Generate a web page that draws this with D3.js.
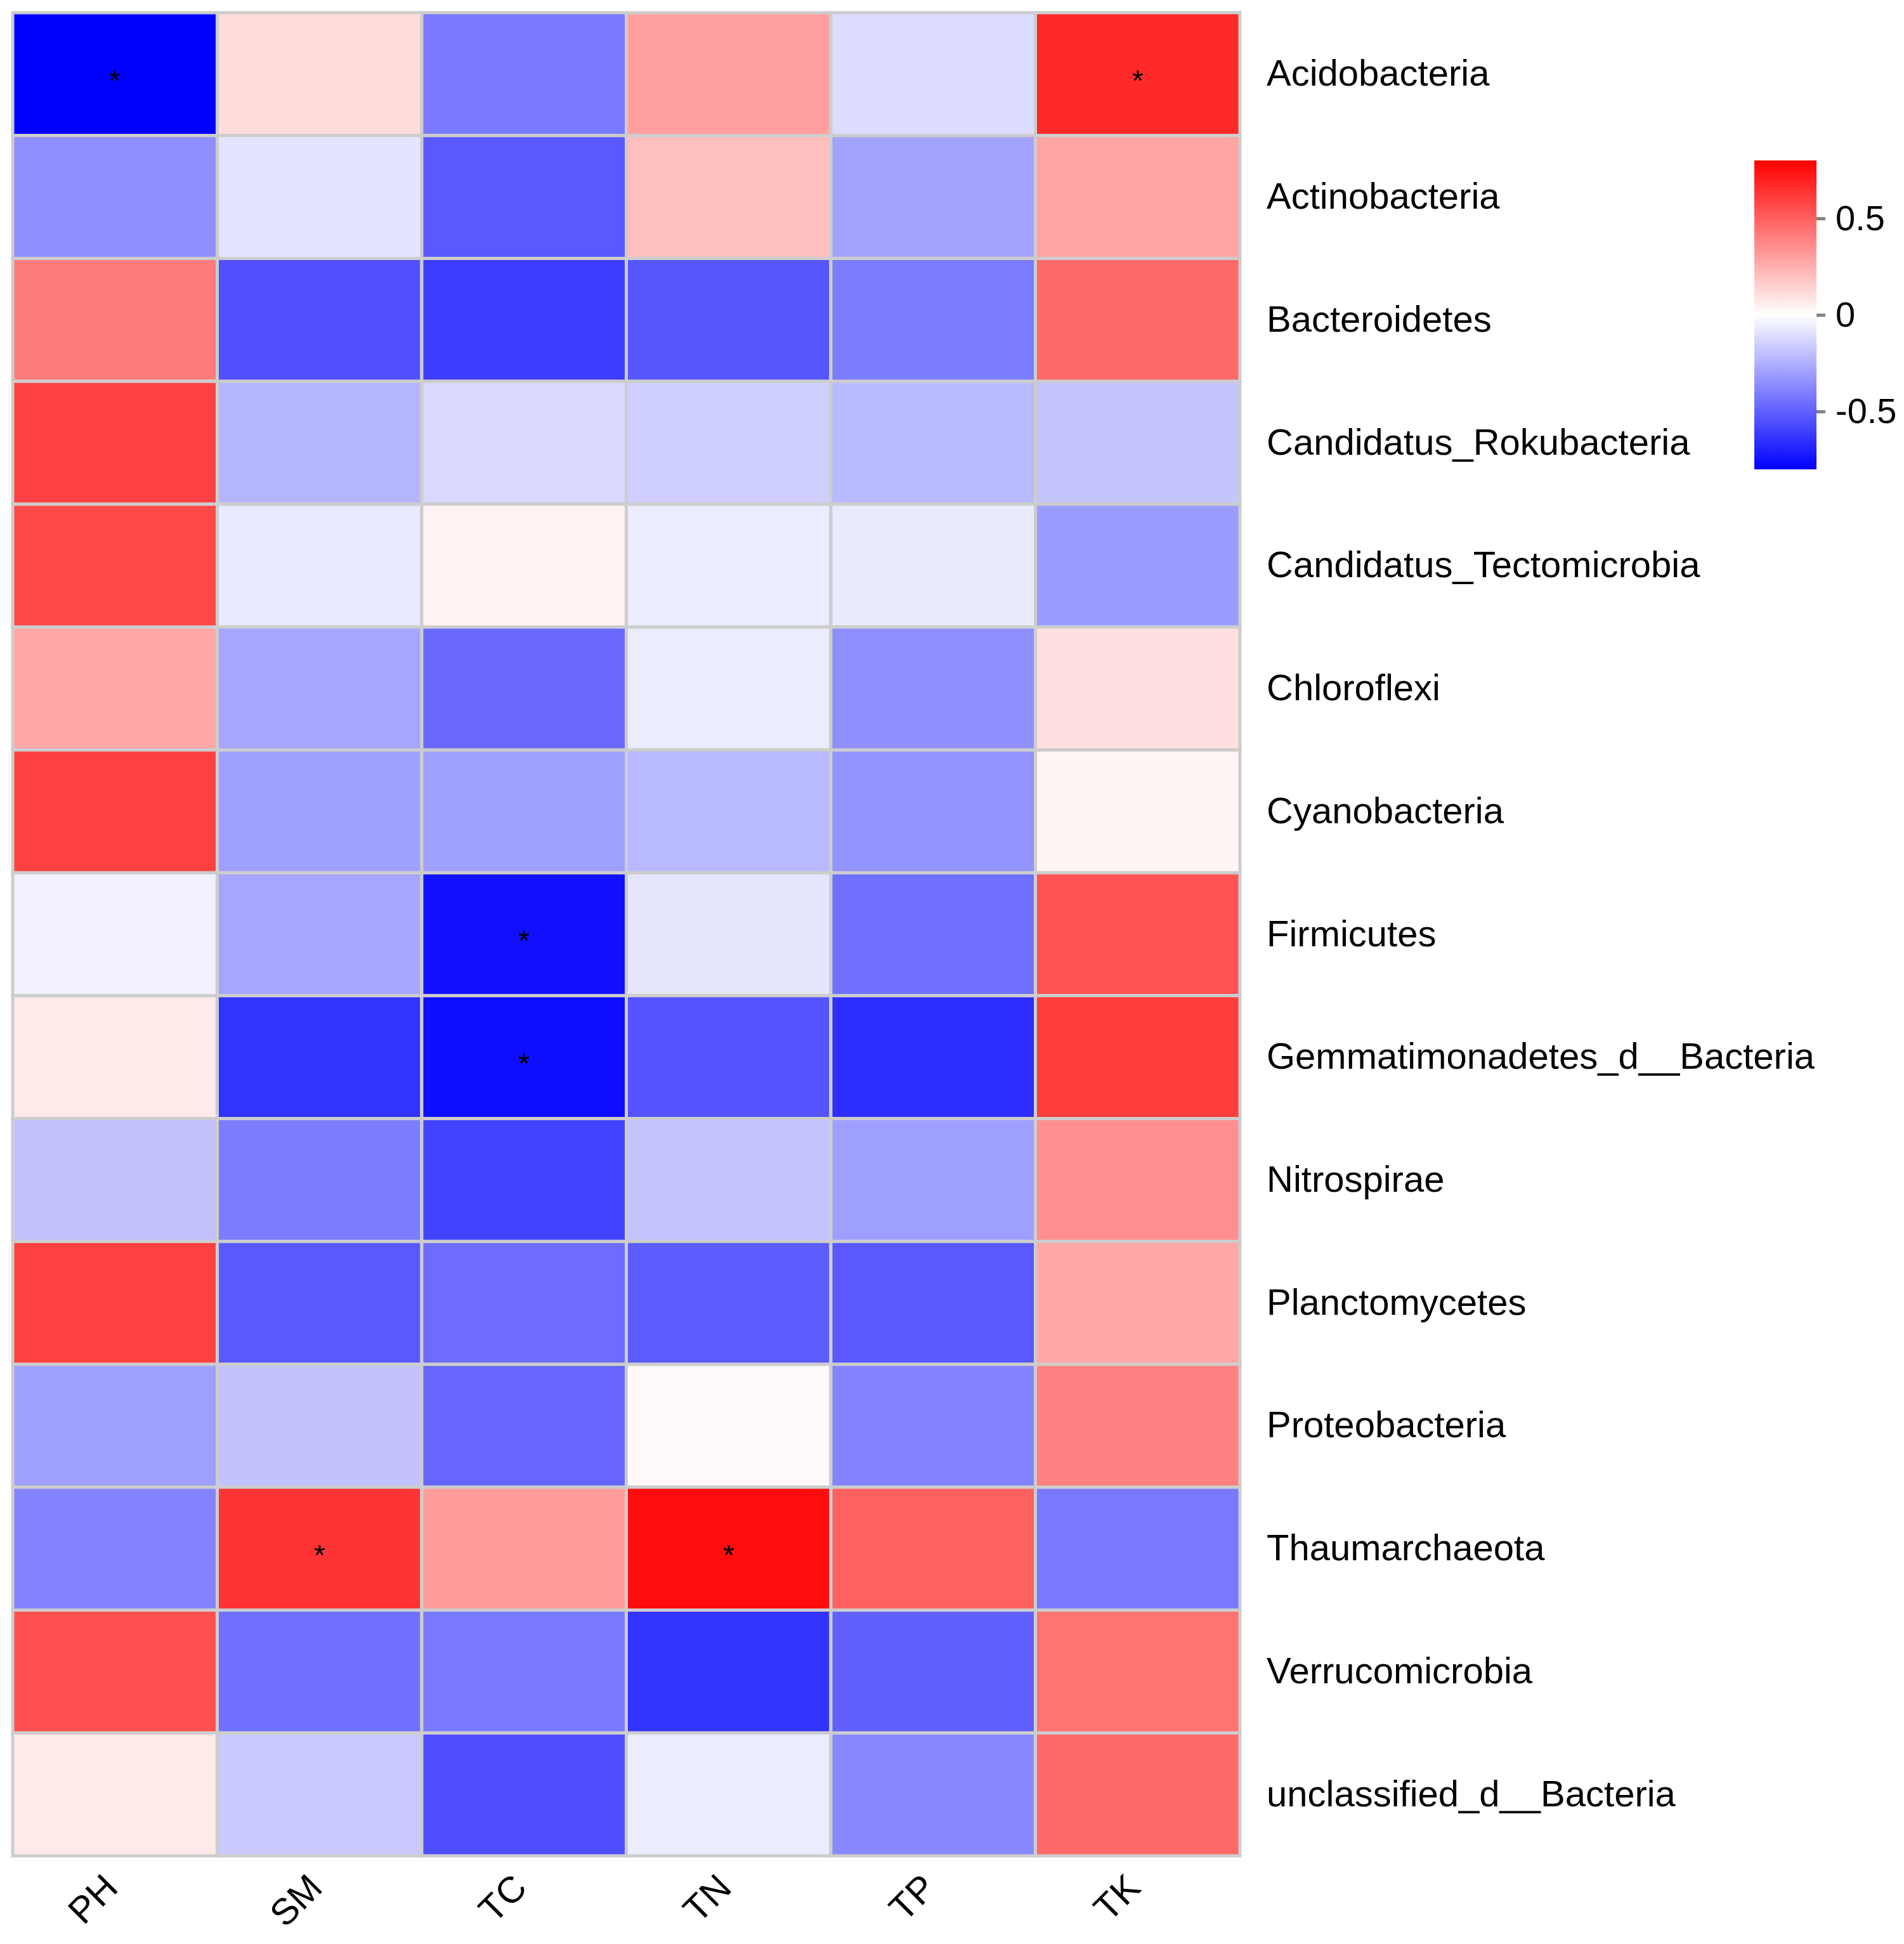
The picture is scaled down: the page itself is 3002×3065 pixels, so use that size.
<!DOCTYPE html>
<html>
<head>
<meta charset="utf-8">
<script src="https://cdn.jsdelivr.net/npm/d3@7"></script>
<style>
  html, body { margin: 0; padding: 0; background: #fff; }
  text { font-family: "Liberation Sans", Arial, Helvetica, sans-serif; }
</style>
</head>
<body>
<div id="chartHolder"></div>
<script>
// soil properties (columns) and phyla (rows)
const factors = ["PH", "SM", "TC", "TN", "TP", "TK"];
const phyla = [
  "Acidobacteria", "Actinobacteria", "Bacteroidetes", "Candidatus_Rokubacteria",
  "Candidatus_Tectomicrobia", "Chloroflexi", "Cyanobacteria", "Firmicutes",
  "Gemmatimonadetes_d__Bacteria", "Nitrospirae", "Planctomycetes", "Proteobacteria",
  "Thaumarchaeota", "Verrucomicrobia", "unclassified_d__Bacteria"
];

// correlation values, one array per row (PH, SM, TC, TN, TP, TK)
const acidobacteria    = [-0.80,  0.11, -0.42,  0.30, -0.11,  0.67];
const actinobacteria   = [-0.35, -0.085, -0.52, 0.20, -0.29,  0.29];
const bacteroidetes    = [ 0.41, -0.55, -0.61, -0.53, -0.41,  0.47];
const rokubacteria     = [ 0.60, -0.235, -0.12, -0.15, -0.22, -0.185];
const tectomicrobia    = [ 0.57, -0.07,  0.04, -0.06, -0.065, -0.31];
const chloroflexi      = [ 0.28, -0.28, -0.47, -0.06, -0.35,  0.10];
const cyanobacteria    = [ 0.60, -0.30, -0.30, -0.22, -0.34,  0.03];
const firmicutes       = [-0.045, -0.28, -0.75, -0.08, -0.45, 0.54];
const gemmatimonadetes = [ 0.07, -0.64, -0.76, -0.54, -0.66,  0.61];
const nitrospirae      = [-0.19, -0.41, -0.59, -0.185, -0.30, 0.35];
const planctomycetes   = [ 0.60, -0.52, -0.46, -0.51, -0.52,  0.28];
const proteobacteria   = [-0.30, -0.19, -0.48,  0.02, -0.39,  0.40];
const thaumarchaeota   = [-0.39,  0.64,  0.31,  0.76,  0.50, -0.42];
const verrucomicrobia  = [ 0.55, -0.45, -0.42, -0.64, -0.50,  0.44];
const unclassified     = [ 0.07, -0.17, -0.555, -0.06, -0.37, 0.47];

const values = [
  acidobacteria, actinobacteria, bacteroidetes, rokubacteria, tectomicrobia,
  chloroflexi, cyanobacteria, firmicutes, gemmatimonadetes, nitrospirae,
  planctomycetes, proteobacteria, thaumarchaeota, verrucomicrobia, unclassified
];

// significant cells marked with "*"  [row, column]
const stars = [
  ["Acidobacteria", "PH"], ["Acidobacteria", "TK"],
  ["Firmicutes", "TC"], ["Gemmatimonadetes_d__Bacteria", "TC"],
  ["Thaumarchaeota", "SM"], ["Thaumarchaeota", "TN"]
];

const legendTicks = [-0.5, 0, 0.5];

const width = 3002, height = 3065;
const fontSize = 58;

const svg = d3.select("#chartHolder")
  .append("svg")
    .attr("width", width)
    .attr("height", height)
    .attr("viewBox", [0, 0, width, height]);

const x = d3.scaleBand().domain(factors).range([20, 1955]);
const y = d3.scaleBand().domain(phyla).range([20, 2926]);

const color = d3.scaleLinear()
  .domain([-0.8, 0, 0.8])
  .range(["#0000ff", "#ffffff", "#ff0000"])
  .clamp(true);

const cells = [];
phyla.forEach((p, i) => factors.forEach((f, j) => cells.push({ row: p, col: f, v: values[i][j] })));

svg.append("g")
  .selectAll("rect")
  .data(cells)
  .join("rect")
    .attr("x", d => x(d.col))
    .attr("y", d => y(d.row))
    .attr("width", x.bandwidth())
    .attr("height", y.bandwidth())
    .attr("fill", d => color(d.v))
    .attr("stroke", "#cdcdcd")
    .attr("stroke-width", 5);

// stars
svg.append("g")
  .selectAll("text")
  .data(stars)
  .join("text")
    .attr("x", d => x(d[1]) + x.bandwidth() / 2)
    .attr("y", d => y(d[0]) + y.bandwidth() / 2)
    .attr("dy", "0.57em")
    .attr("text-anchor", "middle")
    .attr("font-size", 46)
    .text("*");

// row labels
svg.append("g")
  .selectAll("text")
  .data(phyla)
  .join("text")
    .attr("x", 1997)
    .attr("y", d => y(d) + y.bandwidth() / 2)
    .attr("dy", "0.32em")
    .attr("font-size", fontSize)
    .text(d => d);

// column labels, rotated 45 degrees
svg.append("g")
  .selectAll("text")
  .data(factors)
  .join("text")
    .attr("transform", d => `translate(${x(d) + x.bandwidth() / 2 - 22},${2926 + 24}) rotate(-45)`)
    .attr("text-anchor", "end")
    .attr("dy", "0.72em")
    .attr("font-size", fontSize)
    .text(d => d);

// colour legend
const legTop = 253, legBottom = 740, legLeft = 2766, legWidth = 98;
const defs = svg.append("defs");
const grad = defs.append("linearGradient")
  .attr("id", "legendGrad")
  .attr("x1", 0).attr("y1", 1).attr("x2", 0).attr("y2", 0);
d3.range(0, 1.0001, 0.05).forEach(t => {
  grad.append("stop")
    .attr("offset", t)
    .attr("stop-color", color(-0.8 + 1.6 * t));
});

svg.append("rect")
  .attr("x", legLeft)
  .attr("y", legTop)
  .attr("width", legWidth)
  .attr("height", legBottom - legTop)
  .attr("fill", "url(#legendGrad)");

const legScale = d3.scaleLinear().domain([-0.8, 0.8]).range([legBottom, legTop]);
const legAxis = svg.append("g")
  .attr("transform", `translate(${legLeft + legWidth},0)`)
  .call(d3.axisRight(legScale)
    .tickValues(legendTicks)
    .tickFormat(d => String(d))
    .tickSize(14)
    .tickPadding(16));
legAxis.select(".domain").remove();
legAxis.selectAll(".tick line").attr("stroke", "#808080").attr("stroke-width", 5);
legAxis.selectAll(".tick text")
  .attr("font-size", 56)
  .attr("fill", "#000")
  .attr("font-family", "Liberation Sans, Arial, sans-serif");
</script>
</body>
</html>
